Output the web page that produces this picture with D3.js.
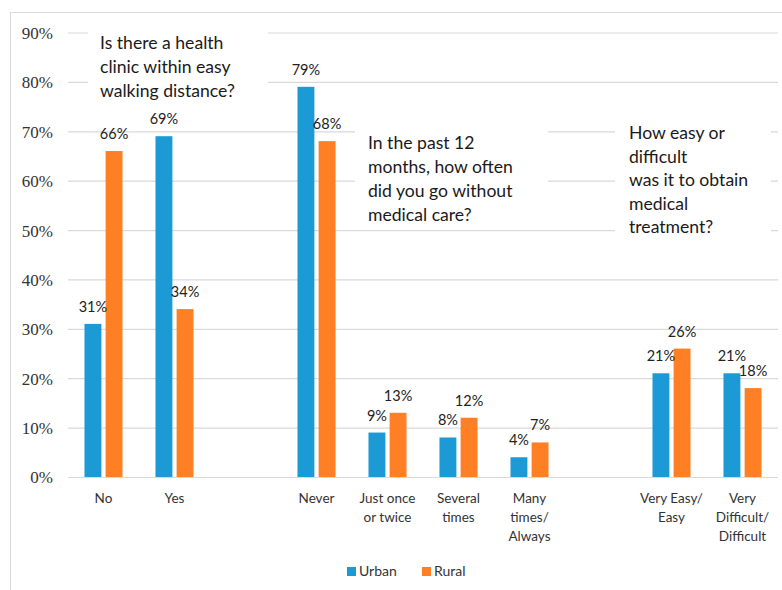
<!DOCTYPE html>
<html>
<head>
<meta charset="utf-8">
<script src="https://cdn.jsdelivr.net/npm/d3@7"></script>
<style>
  html, body { margin: 0; padding: 0; background: #fff; }
  svg { display: block; }
</style>
</head>
<body>
<svg id="chart" width="782" height="590"></svg>
<script>
// Answer categories; empty slots separate the three survey questions
const categories = ["No", "Yes", "gap1", "Never", "Just once\nor twice", "Several\ntimes",
  "Many\ntimes/\nAlways", "gap2", "Very Easy/\nEasy", "Very\nDifficult/\nDifficult"];
const seriesNames = ["Urban", "Rural"];
const urbanValues = [31, 69, null, 79, 9, 8, 4, null, 21, 21];
const ruralValues = [66, 34, null, 68, 13, 12, 7, null, 26, 18];
const yTicks = [0, 10, 20, 30, 40, 50, 60, 70, 80, 90];
const questions = [
  ["Is there a health", "clinic within easy", "walking distance?"],
  ["In the past 12", "months, how often", "did you go without", "medical care?"],
  ["How easy or", "difficult", "was it to obtain", "medical", "treatment?"]
];

const colors = { Urban: "#1b9ad6", Rural: "#fe7f24" };
const textFont = "Lato, 'Open Sans', sans-serif";

const svg = d3.select("#chart");
const W = 782, H = 590;
const m = { left: 68, right: 4, top: 32.5, bottom: 113 };

// outer frame
svg.append("rect")
  .attr("x", 10.5).attr("y", 12.5)
  .attr("width", W).attr("height", H)
  .attr("fill", "none").attr("stroke", "#d9d9d9").attr("stroke-width", 1);

const x = d3.scaleBand().domain(categories).range([m.left, W - m.right]).paddingInner(0).paddingOuter(0);
const y = d3.scaleLinear().domain([0, 90]).range([H - m.bottom, m.top]);
const xs = d3.scaleBand().domain(seriesNames).range([0, x.bandwidth()]).paddingInner(0.2).paddingOuter(0.78);

// gridlines via axis
const gridAxis = d3.axisLeft(y).tickValues(yTicks).tickSize(-(W - m.right - m.left)).tickFormat("");
const grid = svg.append("g").attr("transform", `translate(${m.left},0)`).call(gridAxis);
grid.select(".domain").remove();
grid.selectAll(".tick line").attr("stroke", "#d9d9d9").attr("stroke-width", 1.2);

// y tick labels
const yAxis = d3.axisLeft(y).tickValues(yTicks).tickSize(0).tickPadding(15).tickFormat(d => d + "%");
const ya = svg.append("g").attr("transform", `translate(${m.left},0)`).call(yAxis);
ya.select(".domain").remove();
ya.selectAll("text")
  .attr("font-family", "'Liberation Serif', 'Times New Roman', serif")
  .attr("font-size", 17).attr("fill", "#333").attr("dy", "0.35em");

// bars
const rows = [];
categories.forEach((c, i) => {
  if (urbanValues[i] != null) rows.push({ cat: c, s: "Urban", v: urbanValues[i] });
  if (ruralValues[i] != null) rows.push({ cat: c, s: "Rural", v: ruralValues[i] });
});

svg.append("g").selectAll("rect").data(rows).join("rect")
  .attr("x", d => x(d.cat) + xs(d.s))
  .attr("width", xs.bandwidth())
  .attr("y", d => y(d.v))
  .attr("height", d => y(0) - y(d.v))
  .attr("fill", d => colors[d.s]);

// value labels
svg.append("g").selectAll("text").data(rows).join("text")
  .attr("x", d => x(d.cat) + xs(d.s) + xs.bandwidth() / 2)
  .attr("y", d => y(d.v) - 12)
  .attr("text-anchor", "middle")
  .attr("font-family", textFont).attr("font-size", 14.5).attr("fill", "#222")
  .text(d => d.v + "%");

// category labels
const xl = svg.append("g");
categories.forEach(c => {
  if (c.startsWith("gap")) return;
  const t = xl.append("text")
    .attr("x", x(c) + x.bandwidth() / 2)
    .attr("y", y(0) + 26)
    .attr("text-anchor", "middle")
    .attr("font-family", textFont).attr("font-size", 13.5).attr("fill", "#333");
  c.split("\n").forEach((line, k) => {
    t.append("tspan").attr("x", x(c) + x.bandwidth() / 2).attr("dy", k === 0 ? 0 : 19).text(line);
  });
});

// question annotations with white boxes
const qBoxes = [
  { x: 88, y: 24, w: 180, h: 82, tx: 100, ty: 49 },
  { x: 355, y: 120, w: 193, h: 100, tx: 368, ty: 149 },
  { x: 615, y: 110, w: 156, h: 128, tx: 629, ty: 139 }
];
questions.forEach((lines, qi) => {
  const b = qBoxes[qi];
  svg.append("rect").attr("x", b.x).attr("y", b.y).attr("width", b.w).attr("height", b.h).attr("fill", "#fff");
  const t = svg.append("text")
    .attr("font-family", textFont).attr("font-size", 17.6).attr("fill", "#1a1a1a");
  lines.forEach((line, k) => {
    t.append("tspan").attr("x", b.tx).attr("y", b.ty + k * (qi === 2 ? 23.5 : 24)).text(line);
  });
});

// legend
const lg = svg.append("g");
const legendX = [347, 422];
seriesNames.forEach((s, i) => {
  lg.append("rect").attr("x", legendX[i]).attr("y", 567).attr("width", 9).attr("height", 9).attr("fill", colors[s]);
  lg.append("text").attr("x", legendX[i] + 12).attr("y", 576)
    .attr("font-family", textFont).attr("font-size", 14).attr("fill", "#333").text(s);
});
</script>
</body>
</html>
